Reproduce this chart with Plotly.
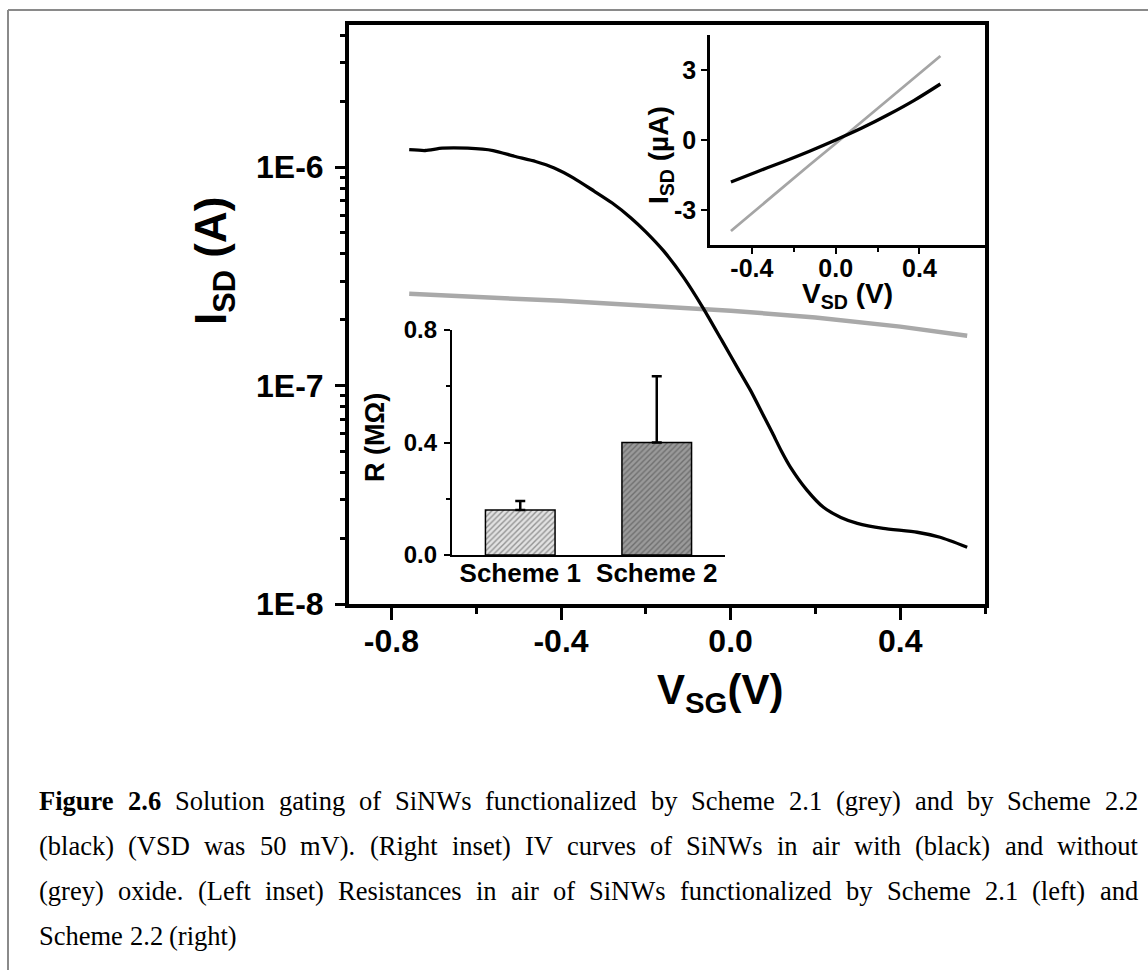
import plotly.graph_objects as go

# ---------------- data ----------------
# main panel: solution gating
vsg_black = [-0.758, -0.72, -0.68, -0.62, -0.56, -0.51, -0.46, -0.416, -0.37, -0.322,
             -0.28, -0.235, -0.2, -0.158, -0.11, -0.064, -0.02, 0.02, 0.047, 0.075,
             0.099, 0.12, 0.141, 0.18, 0.219, 0.26, 0.299, 0.36, 0.44, 0.494, 0.558]
isd_black = [1.20e-6, 1.19e-6, 1.22e-6, 1.22e-6, 1.19e-6, 1.12e-6, 1.06e-6, 9.9e-7, 8.9e-7, 7.76e-7,
             6.86e-7, 5.85e-7, 5.05e-7, 4.13e-7, 3.11e-7, 2.25e-7, 1.60e-7, 1.17e-7, 9.5e-8, 7.45e-8,
             6.04e-8, 5.0e-8, 4.23e-8, 3.32e-8, 2.77e-8, 2.49e-8, 2.34e-8, 2.22e-8, 2.13e-8, 2.02e-8, 1.82e-8]
vsg_grey = [-0.758, -0.6, -0.4, -0.2, 0.0, 0.2, 0.4, 0.558]
isd_grey = [2.63e-7, 2.55e-7, 2.44e-7, 2.32e-7, 2.20e-7, 2.05e-7, 1.86e-7, 1.69e-7]

# right inset: IV curves
vsd_iv = [-0.5, -0.375, -0.25, -0.125, 0.0, 0.125, 0.25, 0.375, 0.5]
isd_iv_black = [-1.8, -1.36, -0.93, -0.48, 0.0, 0.51, 1.08, 1.70, 2.4]
isd_iv_grey = [-3.9, -2.95, -2.0, -1.07, -0.15, 0.78, 1.72, 2.66, 3.6]

# left inset: resistances
schemes = ["Scheme 1", "Scheme 2"]
resist = [0.16, 0.40]
resist_err = [0.032, 0.236]

# tick labels
main_x_ticks = [-0.8, -0.4, 0.0, 0.4]
main_x_text = ["-0.8", "-0.4", "0.0", "0.4"]
main_y_ticks = [1e-8, 1e-7, 1e-6]
main_y_text = ["1E-8", "1E-7", "1E-6"]
iv_x_ticks = [-0.4, 0.0, 0.4]
iv_x_text = ["-0.4", "0.0", "0.4"]
iv_y_ticks = [-3, 0, 3]
iv_y_text = ["-3", "0", "3"]
r_ticks = [0.0, 0.4, 0.8]
r_text = ["0.0", "0.4", "0.8"]

caption_lines = [
    "Figure 2.6 Solution gating of SiNWs functionalized by Scheme 2.1 (grey) and by Scheme 2.2",
    "(black) (VSD was 50 mV). (Right inset) IV curves of SiNWs in air with (black) and without",
    "(grey) oxide. (Left inset) Resistances in air of SiNWs functionalized by Scheme 2.1 (left) and",
    "Scheme 2.2 (right)",
]

# ---------------- geometry helpers ----------------
L, R, T, B = 349, 985, 25, 604
W, H = 1148, 970


def px(x):
    return (x - L) / (R - L)


def py(y):
    return (B - y) / (B - T)


SANS = "Liberation Sans"
SERIF = "Liberation Serif"

fig = go.Figure()

fig.add_trace(go.Scatter(x=vsg_grey, y=isd_grey, mode="lines", line=dict(color="#a9a9a9", width=4.5),
                         xaxis="x", yaxis="y", showlegend=False))
fig.add_trace(go.Scatter(x=vsg_black, y=isd_black, mode="lines", line=dict(color="black", width=3.3, shape="spline", smoothing=0.6),
                         xaxis="x", yaxis="y", showlegend=False))

fig.add_trace(go.Scatter(x=vsd_iv, y=isd_iv_grey, mode="lines", line=dict(color="#a5a5a5", width=2.8),
                         xaxis="x2", yaxis="y2", showlegend=False))
fig.add_trace(go.Scatter(x=vsd_iv, y=isd_iv_black, mode="lines", line=dict(color="black", width=3.3, shape="spline"),
                         xaxis="x2", yaxis="y2", showlegend=False))

fig.add_trace(go.Bar(x=schemes, y=resist, width=0.51, xaxis="x3", yaxis="y3", showlegend=False,
                     marker=dict(color=["#e2e2e2", "#9a9a9a"],
                                 line=dict(color="black", width=1.5),
                                 pattern=dict(shape="/", fgcolor=["#b5b5b5", "#555555"],
                                              bgcolor=["#e2e2e2", "#9a9a9a"], size=4, solidity=0.35)),
                     error_y=dict(type="data", symmetric=False, array=resist_err, arrayminus=[0, 0],
                                  color="black", thickness=2.5, width=5)))

minor_y = [m * 10 ** e for e in (-8, -7) for m in range(2, 10)] + [2e-6, 3e-6, 4e-6]

bold = "bold"
fig.update_layout(
    width=W, height=H,
    margin=dict(l=L, r=W - R, t=T, b=H - B),
    paper_bgcolor="white", plot_bgcolor="rgba(0,0,0,0)",
    xaxis=dict(domain=[0, 1], anchor="y", range=[-0.9, 0.6], showline=True, linewidth=4, linecolor="black",
               mirror=True, ticks="outside", ticklen=12, tickwidth=3, tickcolor="black",
               tickvals=main_x_ticks, ticktext=main_x_text, showgrid=False, zeroline=False,
               tickfont=dict(family=SANS, size=32, color="black", weight=bold), ticklabelstandoff=-6,
               minor=dict(tickvals=[-0.6, -0.2, 0.2, 0.6], ticks="outside", ticklen=6, tickwidth=3, tickcolor="black", showgrid=False)),
    yaxis=dict(domain=[0, 1], anchor="x", type="log", range=[-8, -5.35], showline=True, linewidth=4, linecolor="black",
               mirror=True, ticks="outside", ticklen=10, tickwidth=3, tickcolor="black",
               tickvals=main_y_ticks, ticktext=main_y_text, showgrid=False, zeroline=False,
               tickfont=dict(family=SANS, size=32, color="black", weight=bold), ticklabelstandoff=5,
               minor=dict(tickvals=minor_y, ticks="outside", ticklen=5, tickwidth=2.5, tickcolor="black", showgrid=False)),
    xaxis4=dict(overlaying="x", anchor="y", side="top", range=[-0.9, 0.6], showline=False, ticks="inside",
                ticklen=8, tickwidth=3, tickcolor="black", tickvals=[-0.8, -0.6, -0.4, -0.2, 0.0, 0.2, 0.4],
                showticklabels=False, showgrid=False, zeroline=False),
    xaxis2=dict(domain=[px(710), 1.0], anchor="y2", range=[-0.6, 0.713], showline=True, linewidth=2.5,
                linecolor="black", ticks="outside", ticklen=6, tickwidth=2, tickcolor="black",
                tickvals=iv_x_ticks, ticktext=iv_x_text, showgrid=False, zeroline=False,
                tickfont=dict(family=SANS, size=25, color="black", weight=bold), ticklabelstandoff=-7,
                minor=dict(tickvals=[-0.2, 0.2], ticks="outside", ticklen=4, tickwidth=2, tickcolor="black", showgrid=False)),
    yaxis2=dict(domain=[py(245), py(35)], anchor="x2", range=[-4.5, 4.5], showline=True, linewidth=2.5,
                linecolor="black", ticks="outside", ticklen=6, tickwidth=2, tickcolor="black",
                tickvals=iv_y_ticks, ticktext=iv_y_text, showgrid=False, zeroline=False,
                tickfont=dict(family=SANS, size=25, color="black", weight=bold), ticklabelstandoff=0),
    xaxis3=dict(domain=[px(452), px(725)], anchor="y3", type="category", range=[-0.5, 1.5], showline=True,
                linewidth=2.2, linecolor="black", ticks="", showgrid=False, zeroline=False,
                tickfont=dict(family=SANS, size=26, color="black", weight=bold), ticklabelstandoff=-6),
    yaxis3=dict(domain=[py(555), py(330)], anchor="x3", range=[0, 0.8], showline=True, linewidth=2.2,
                linecolor="black", ticks="outside", ticklen=6, tickwidth=2, tickcolor="black",
                tickvals=r_ticks, ticktext=r_text, showgrid=False, zeroline=False,
                tickfont=dict(family=SANS, size=24, color="black", weight=bold), ticklabelstandoff=2,
                minor=dict(tickvals=[0.2, 0.6], ticks="outside", ticklen=4, tickwidth=2, tickcolor="black", showgrid=False)),
)

ann = []


def add_text(x, y, text, size, family=SANS, weight=bold, angle=0, xanchor="center", yanchor="middle"):
    ann.append(dict(x=px(x), y=py(y), xref="paper", yref="paper", text=text, showarrow=False,
                    textangle=angle, xanchor=xanchor, yanchor=yanchor,
                    font=dict(family=family, size=size, color="black", weight=weight)))


# axis titles
add_text(214, 261, "I<sub>SD</sub> (A)", 44, angle=-90)
add_text(720, 692, "V<sub>SG</sub>(V)", 42)
add_text(847, 295, "V<sub>SD</sub> (V)", 28)
add_text(660, 155, "I<sub>SD</sub> (µA)", 28, angle=-90)
add_text(375, 438, "R (MΩ)", 27, angle=-90)

# caption: justified text laid out word by word with Times metrics
TW = {" ": 250, "(": 333, ")": 333, ".": 250, ",": 250, "-": 333,
      "A": 722, "B": 667, "C": 667, "D": 722, "E": 611, "F": 556, "G": 722, "H": 722, "I": 333, "J": 389,
      "K": 722, "L": 611, "M": 889, "N": 722, "O": 722, "P": 556, "Q": 722, "R": 667, "S": 556, "T": 611,
      "U": 722, "V": 722, "W": 944, "X": 722, "Y": 722, "Z": 611,
      "a": 444, "b": 500, "c": 444, "d": 500, "e": 444, "f": 333, "g": 500, "h": 500, "i": 278, "j": 278,
      "k": 500, "l": 278, "m": 778, "n": 500, "o": 500, "p": 500, "q": 500, "r": 333, "s": 389, "t": 278,
      "u": 500, "v": 500, "w": 722, "x": 500, "y": 500, "z": 444}
TWB = dict(TW)
TWB.update({"F": 611, "u": 556, "r": 444})
cap_size = 26.5
cap_left, cap_right = 38, 1137
line_mids = [801, 846, 891, 936]


def word_w(word, b):
    tab = TWB if b else TW
    return sum(tab.get(c, 500) for c in word) / 1000.0 * cap_size


for li, line in enumerate(caption_lines):
    words = line.split()
    flags = [li == 0 and wi < 2 for wi in range(len(words))]
    widths = [word_w(w, f) for w, f in zip(words, flags)]
    justify = li < len(caption_lines) - 1
    if justify:
        gap = (cap_right - cap_left - sum(widths)) / (len(words) - 1)
    else:
        gap = 0.25 * cap_size
    xpos = cap_left
    for w, f, ww in zip(words, flags, widths):
        add_text(xpos - 1, line_mids[li], w, cap_size, family=SERIF, weight=(bold if f else "normal"), xanchor="left")
        xpos += ww + gap

fig.update_layout(annotations=ann)

# outer document frame
fig.update_layout(shapes=[
    dict(type="line", xref="paper", yref="paper", x0=px(8), x1=px(1160), y0=py(10), y1=py(10),
         line=dict(color="#8a8a8a", width=2)),
    dict(type="line", xref="paper", yref="paper", x0=px(8), x1=px(8), y0=py(10), y1=py(980),
         line=dict(color="#8a8a8a", width=2)),
])

fig.write_html("out.html")
